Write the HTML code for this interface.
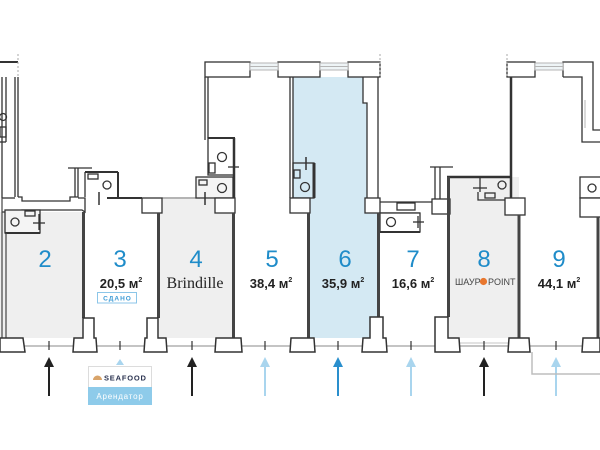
<!DOCTYPE html>
<html><head><meta charset="utf-8"><style>
html,body{margin:0;padding:0;background:#fff;}
svg{display:block;}
text{font-family:"Liberation Sans","DejaVu Sans",sans-serif;}
</style></head><body>
<svg width="600" height="450" viewBox="0 0 600 450" xmlns="http://www.w3.org/2000/svg">
<rect width="600" height="450" fill="#fff"/>
<!-- room fills -->
<rect x="0" y="212" width="83" height="126" fill="#efefef"/>
<rect x="159" y="199" width="74" height="139" fill="#efefef"/>
<rect x="449" y="177" width="70" height="161" fill="#efefef"/>
<polygon points="293,77 363,77 363,103 367,103 367,213 377,213 377,338 310,338 310,198 293,198" fill="#d4e9f3"/>

<!-- top walls -->
<g stroke="#333" stroke-width="1.3" fill="#fff">
<line x1="0" y1="62" x2="18" y2="62" stroke-width="2"/>
<rect x="205" y="62" width="45" height="15"/>
<rect x="278" y="62" width="42" height="15"/>
<rect x="348" y="62" width="32" height="15"/>
<rect x="507" y="62" width="28" height="15"/>
<polyline points="563,77 563,62 593,62 593,130 600,130" fill="none"/>
<polyline points="563,77 582,77 582,142 600,142" fill="none"/>
</g>
<g stroke="#b5b5b5" stroke-width="1" fill="#eef4f6">
<rect x="250" y="63" width="28" height="7"/>
<rect x="320" y="63" width="28" height="7"/>
<rect x="535" y="63" width="28" height="7"/>
<line x1="250" y1="66.5" x2="278" y2="66.5"/>
<line x1="320" y1="66.5" x2="348" y2="66.5"/>
<line x1="535" y1="66.5" x2="563" y2="66.5"/>
<line x1="585" y1="100" x2="585" y2="128"/>
</g>
<g stroke="#aaa" stroke-width="1" stroke-dasharray="2,2">
<line x1="18" y1="54" x2="18" y2="77"/>
<line x1="380" y1="54" x2="380" y2="77"/>
<line x1="507" y1="54" x2="507" y2="77"/>
</g>

<!-- upper walls -->
<g stroke="#333" stroke-width="1.3" fill="none">
<line x1="15" y1="77" x2="15" y2="197"/>
<line x1="18" y1="77" x2="18" y2="197"/>
<line x1="2" y1="77" x2="2" y2="198"/>
<line x1="6" y1="77" x2="6" y2="142"/>
<line x1="0" y1="142" x2="6" y2="142"/>
<circle cx="3" cy="117" r="3.5"/>
<rect x="0" y="127" width="6" height="10"/>
<polyline points="18,197 22,197 22,201 70,201 70,197 78,197 78,168"/>
<line x1="75" y1="168" x2="75" y2="197"/>
<line x1="68" y1="168" x2="92" y2="168"/>
<line x1="2" y1="198" x2="15" y2="198"/>
<polyline points="2,212 22,212 22,210 82,210 85,212 85,198 78,198"/>
<!-- room 3 toilet -->
<line x1="85" y1="172" x2="85" y2="197"/>
<line x1="85" y1="172" x2="118" y2="172" stroke-width="2"/>
<line x1="118" y1="172" x2="118" y2="197" stroke-width="2"/>
<circle cx="107" cy="185" r="4"/>
<rect x="88" y="174" width="10" height="5"/>
<line x1="99" y1="192" x2="99" y2="205" stroke-width="1.5"/>
<line x1="107" y1="198" x2="142" y2="198" stroke-width="2"/>
<line x1="162" y1="198" x2="200" y2="198" stroke="#888"/>
<rect x="142" y="198" width="20" height="15" fill="#fff"/>
<!-- room 2 toilet -->
<rect x="5" y="210" width="35" height="23" fill="#f4f4f4"/>
<line x1="5" y1="233" x2="40" y2="233" stroke-width="2"/>
<circle cx="15" cy="222" r="4"/>
<rect x="25" y="211" width="10" height="5"/>
<line x1="33" y1="223" x2="45" y2="223"/>
<line x1="39" y1="214" x2="39" y2="230"/>
<!-- room 4 toilets -->
<line x1="205" y1="77" x2="205" y2="140"/>
<line x1="208" y1="77" x2="208" y2="138"/>
<rect x="208" y="138" width="26" height="37" fill="#fff"/>
<line x1="208" y1="138" x2="235" y2="138" stroke-width="2"/>
<line x1="234" y1="138" x2="234" y2="213" stroke-width="2.5"/>
<circle cx="222" cy="157" r="4.5"/>
<rect x="209" y="163" width="6" height="10"/>
<line x1="228" y1="167" x2="239" y2="167"/>
<rect x="196" y="177" width="37" height="21" fill="#f4f4f4"/>
<circle cx="222" cy="188" r="4.5"/>
<rect x="199" y="180" width="8" height="5"/>
<line x1="205" y1="192" x2="205" y2="205" stroke-width="1.5"/>
<rect x="215" y="198" width="20" height="15" fill="#fff"/>
<!-- room 6 -->
<line x1="290" y1="77" x2="290" y2="198"/>
<line x1="293" y1="77" x2="293" y2="198"/>
<rect x="293" y="163" width="21" height="35"/>
<line x1="314" y1="163" x2="314" y2="198" stroke-width="3"/>
<circle cx="305" cy="187" r="4.5"/>
<rect x="294" y="170" width="6" height="8"/>
<line x1="306" y1="157" x2="306" y2="170" stroke-width="1.5"/>
<rect x="290" y="198" width="20" height="15" fill="#fff"/>
<polyline points="363,77 363,103 367,103 367,198"/>
<line x1="378" y1="77" x2="378" y2="198"/>
<!-- 6/7 band -->
<rect x="365" y="198" width="15" height="15" fill="#fff"/>
<line x1="380" y1="202" x2="432" y2="202"/>
<line x1="380" y1="213" x2="420" y2="213"/>
<rect x="397" y="203" width="18" height="7"/>
<rect x="380" y="213" width="40" height="19" fill="#fff"/>
<line x1="380" y1="232" x2="420" y2="232" stroke-width="2"/>
<circle cx="391" cy="222" r="4.5"/>
<line x1="413" y1="222" x2="424" y2="222"/>
<line x1="418" y1="216" x2="418" y2="228"/>
<!-- 7/8 upper -->
<line x1="435" y1="167" x2="435" y2="199"/>
<line x1="440" y1="167" x2="440" y2="199"/>
<line x1="430" y1="167" x2="453" y2="167"/>
<rect x="432" y="199" width="18" height="15" fill="#fff"/>
<!-- room 8 toilet -->
<line x1="447" y1="177" x2="512" y2="177" stroke-width="2.5"/>
<circle cx="502" cy="185" r="4"/>
<rect x="485" y="193" width="10" height="5"/>
<polyline points="478,192 478,200 505,200"/>
<line x1="480" y1="177" x2="480" y2="192"/>
<line x1="473" y1="188" x2="487" y2="188"/>
<line x1="511" y1="77" x2="511" y2="198" stroke-width="2.5"/>
<rect x="505" y="198" width="20" height="17" fill="#fff"/>
<!-- room 9 toilet -->
<rect x="580" y="177" width="22" height="21" fill="#fff"/>
<circle cx="592" cy="188" r="4"/>
<rect x="580" y="198" width="22" height="19" fill="#fff"/>
</g>

<!-- room dividers -->
<g stroke="#444" stroke-width="3">
<line x1="83.5" y1="212" x2="83.5" y2="318"/>
<line x1="158.5" y1="213" x2="158.5" y2="318"/>
<line x1="233.5" y1="213" x2="233.5" y2="338"/>
<line x1="308.5" y1="213" x2="308.5" y2="338"/>
<line x1="378.5" y1="213" x2="378.5" y2="317"/>
<line x1="448.5" y1="177" x2="448.5" y2="317"/>
<line x1="519" y1="215" x2="519" y2="338"/>
<line x1="598" y1="217" x2="598" y2="338"/>
</g>
<g stroke="#444" stroke-width="1.2">
<line x1="2" y1="198" x2="2" y2="338"/>
<line x1="6" y1="233" x2="6" y2="338"/>
</g>

<!-- facade -->
<line x1="0" y1="346" x2="600" y2="346" stroke="#c4c4c4" stroke-width="2"/>
<line x1="449" y1="343" x2="508" y2="343" stroke="#c4c4c4" stroke-width="1"/>
<g stroke="#333" stroke-width="1.5" fill="#fff">
<polygon points="0,338 23,338 25,352 0,352"/>
<polygon points="73,352 74,338 83,338 83,318 94,318 94,338 96,338 97,352"/>
<polygon points="144,352 145,338 147,338 147,318 158,318 158,338 166,338 167,352"/>
<polygon points="215,352 216,338 241,338 242,352"/>
<polygon points="290,352 291,338 314,338 315,352"/>
<polygon points="362,352 363,338 370,338 370,317 383,317 383,338 386,338 387,352"/>
<polygon points="435,352 435,317 448,317 448,338 459,338 460,352"/>
<polygon points="508,352 509,338 529,338 530,352"/>
<polygon points="582,352 583,338 600,338 600,352"/>
</g>
<g stroke="#333" stroke-width="1.2">
<line x1="49" y1="341" x2="49" y2="350"/>
<line x1="120" y1="341" x2="120" y2="350"/>
<line x1="192" y1="341" x2="192" y2="350"/>
<line x1="265" y1="341" x2="265" y2="350"/>
<line x1="338" y1="341" x2="338" y2="350"/>
<line x1="411" y1="341" x2="411" y2="350"/>
<line x1="484" y1="341" x2="484" y2="350"/>
<line x1="556" y1="341" x2="556" y2="350"/>
</g>

<!-- arrows -->
<g stroke-width="2">
<line x1="49" y1="365" x2="49" y2="396" stroke="#222"/><polygon points="49,357 44,367 54,367" fill="#222"/>
<line x1="192" y1="365" x2="192" y2="396" stroke="#222"/><polygon points="192,357 187,367 197,367" fill="#222"/>
<line x1="484" y1="365" x2="484" y2="396" stroke="#222"/><polygon points="484,357 479,367 489,367" fill="#222"/>
<line x1="265" y1="365" x2="265" y2="396" stroke="#a9d5ee"/><polygon points="265,357 260,367 270,367" fill="#a9d5ee"/>
<line x1="411" y1="365" x2="411" y2="396" stroke="#a9d5ee"/><polygon points="411,357 406,367 416,367" fill="#a9d5ee"/>
<line x1="556" y1="365" x2="556" y2="396" stroke="#a9d5ee"/><polygon points="556,357 551,367 561,367" fill="#a9d5ee"/>
<line x1="338" y1="365" x2="338" y2="396" stroke="#2a8fcd"/><polygon points="338,357 333,367 343,367" fill="#2a8fcd"/>
</g>
<polygon points="120,359 116,365 124,365" fill="#a9d5ee"/>
<polyline points="532,352 532,374 600,374" fill="none" stroke="#bdbdbd" stroke-width="1.5"/>

<!-- seafood tag -->
<rect x="88.5" y="366.5" width="63" height="38" fill="#fff" stroke="#dcdcdc" stroke-width="1"/>
<rect x="88" y="387" width="64" height="18" fill="#8ecbea"/>
<path d="M93,380 a4.5,4.5 0 0 1 9,0 z" fill="#d9a46a"/>
<text x="104" y="380.5" font-size="7.5" font-weight="bold" fill="#2b3350" letter-spacing="0.8">SEAFOOD</text>
<text x="120" y="399" font-size="8" fill="#fff" text-anchor="middle" letter-spacing="0.8">Арендатор</text>

<!-- labels -->
<g font-size="24" fill="#1f8cc9" text-anchor="middle">
<text x="45" y="267">2</text>
<text x="120" y="267">3</text>
<text x="196" y="267">4</text>
<text x="272" y="267">5</text>
<text x="345" y="267">6</text>
<text x="413" y="267">7</text>
<text x="484" y="267">8</text>
<text x="559" y="267">9</text>
</g>
<g font-size="13" font-weight="bold" fill="#222" text-anchor="middle">
<text x="121" y="288">20,5 м<tspan font-size="7" dy="-6">2</tspan></text>
<text x="271" y="288">38,4 м<tspan font-size="7" dy="-6">2</tspan></text>
<text x="343" y="288">35,9 м<tspan font-size="7" dy="-6">2</tspan></text>
<text x="413" y="288">16,6 м<tspan font-size="7" dy="-6">2</tspan></text>
<text x="559" y="288">44,1 м<tspan font-size="7" dy="-6">2</tspan></text>
</g>
<text x="195" y="288" font-size="16" fill="#222" text-anchor="middle" style="font-family:'Liberation Serif',serif">Brindille</text>
<rect x="97.5" y="292.5" width="39" height="10.5" fill="none" stroke="#8cc6e8" stroke-width="1"/>
<text x="117.5" y="300.5" font-size="6.5" font-weight="bold" fill="#3d9bd6" text-anchor="middle" letter-spacing="1">СДАНО</text>
<text x="455" y="285" font-size="9" fill="#444">ШАУР</text>
<circle cx="483.5" cy="281.5" r="3.6" fill="#e8772e"/>
<text x="488" y="285" font-size="9" fill="#444">POINT</text>
</svg>
</body></html>
